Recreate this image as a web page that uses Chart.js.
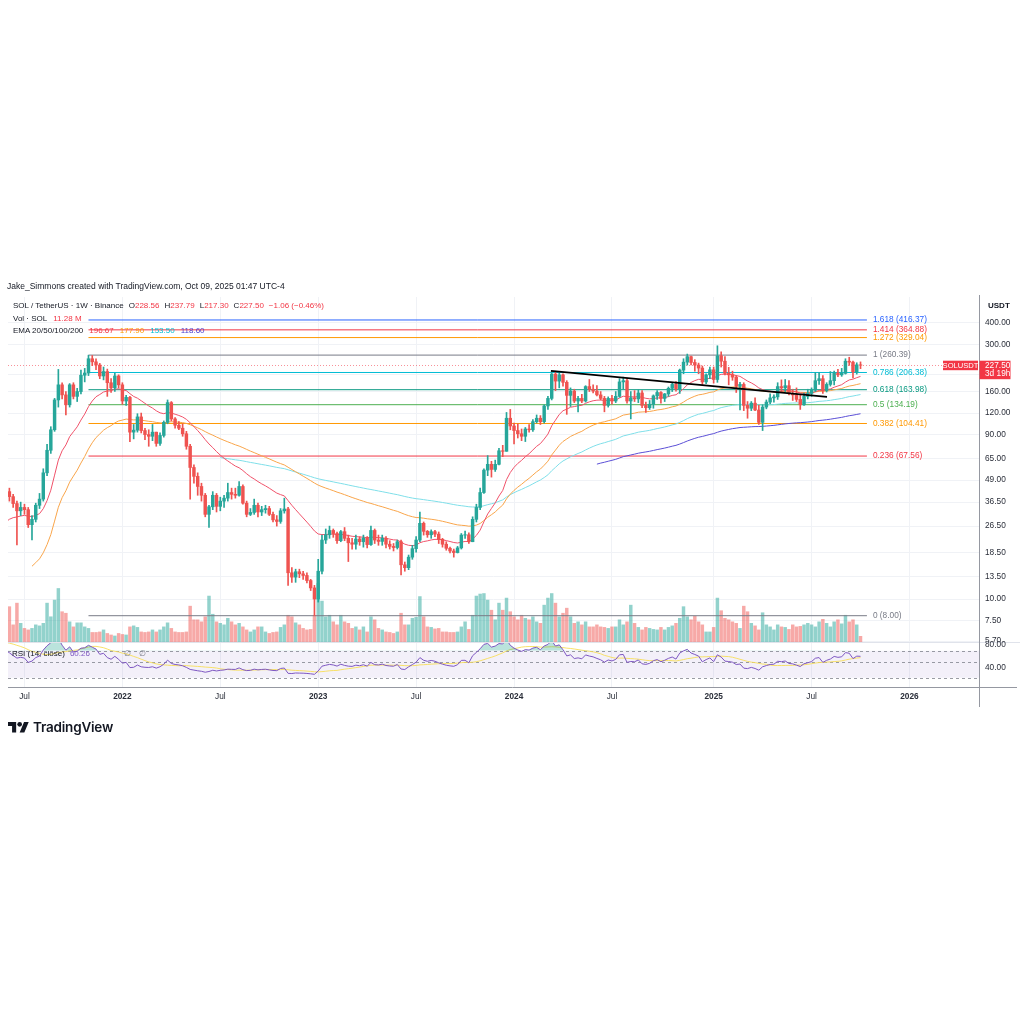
<!DOCTYPE html>
<html>
<head>
<meta charset="utf-8">
<title>SOL / TetherUS 1W</title>
<script src="https://cdn.jsdelivr.net/npm/chart.js@4.4.1/dist/chart.umd.min.js"></script>
<style>
  html, body { margin: 0; padding: 0; background: #fff; }
  #wrap { position: relative; width: 1024px; height: 1024px; overflow: hidden;
          font-family: "Liberation Sans", Arial, sans-serif; color: #131722; }
  #c { position: absolute; left: 0; top: 0; }
  .t { position: absolute; white-space: nowrap; font-size: 8px; line-height: 10px; }
  .row { position: absolute; left: 13px; white-space: nowrap; font-size: 8px; line-height: 10px; display: flex; }
  .row span { display: inline-block; }
  .red { color: #f23645; }
  .logo { position: absolute; left: 8px; top: 722px; }
  .brand { position: absolute; left: 33px; top: 718px; font-family: Inter, "Liberation Sans", sans-serif;
           font-weight: 600; font-size: 13.5px; line-height: 18px; color: #131722; letter-spacing: -0.2px; }
</style>
</head>
<body>
<div id="wrap">
  <canvas id="c" width="1024" height="1024"></canvas>

  <div class="t" style="left:7px;top:281px;font-size:8.5px">Jake_Simmons created with TradingView.com, Oct 09, 2025 01:47 UTC-4</div>

  <div class="row" style="top:301px">
    <span>SOL / TetherUS · 1W · Binance</span>
    <span style="margin-left:5px">O<span class="red">228.56</span></span>
    <span style="margin-left:5px">H<span class="red">237.79</span></span>
    <span style="margin-left:5px">L<span class="red">217.30</span></span>
    <span style="margin-left:5px">C<span class="red">227.50</span></span>
    <span class="red" style="margin-left:5px">−1.06 (−0.46%)</span>
  </div>
  <div class="row" style="top:314px">
    <span>Vol · SOL</span>
    <span class="red" style="margin-left:6px">11.28 M</span>
  </div>
  <div class="row" style="top:326px">
    <span>EMA 20/50/100/200</span>
    <span style="margin-left:6px;color:#f23645">196.67</span>
    <span style="margin-left:6px;color:#ff9800">177.90</span>
    <span style="margin-left:6px;color:#00bcd4">153.50</span>
    <span style="margin-left:6px;color:#4b3fcf">118.60</span>
  </div>

  <div class="row" style="top:649px;left:12px">
    <span>RSI (14, close)</span>
    <span style="margin-left:5px;color:#7e57c2">60.26</span>
    <span style="margin-left:34px;color:#787b86">∅</span>
    <span style="margin-left:8px;color:#787b86">∅</span>
  </div>

  <div class="t" style="left:988px;top:301px;font-weight:bold">USDT</div>

  <svg class="logo" width="21" height="10.5" viewBox="0 4 36 18">
    <path d="M14 22H7V11H0V4h14v18zM28 22h-8l7.5-18h8L28 22z" fill="#131722"/>
    <circle cx="20" cy="8" r="4" fill="#131722"/>
  </svg>
  <div class="brand">TradingView</div>
</div>

<script>
// week index = weeks since 2020-08-10 (first SOLUSDT weekly bar on Binance)
const firstWeek = 43;   // 2021-06-07, first bar inside the plot

// weekly closes Aug 2020 - May 2021, left of the visible window; only used to warm up EMA / RSI
const warmupCloses = [3.3, 3.9, 4.2, 3.2, 3.4, 3.0, 3.0, 2.7, 2.5, 2.4, 1.8, 1.6, 1.7, 2.3, 2.1,
  1.9, 2.0, 1.65, 1.6, 1.5, 2.0, 3.5, 3.3, 3.7, 4.2, 7.6, 8.5, 13.5, 12.8, 13.8, 15.0, 15.5, 17.0,
  20.0, 30.0, 32.0, 28.0, 44.0, 48.0, 50.0, 42.0, 38.0, 42.0];

// visible weekly bars, 2021-06-07 .. 2025-10-06 (open = previous close)
const closes = [
  39.3, 35.8, 32.5, 34.0, 33.0, 27.0, 29.0, 35.0, 38.0, 54.0,
  73, 96, 143, 175, 153, 134, 175, 150, 160, 199,
  205, 248, 238, 228, 197, 209, 180, 168, 197, 175,
  141, 148, 93, 95.5, 114, 95, 90, 88, 93, 80,
  89, 106, 138, 111, 102, 98, 91, 77, 58, 51.5,
  45, 40, 31, 34.3, 40, 34.5, 37, 38.5, 41.5, 40.5,
  40, 45, 36, 31, 31.8, 35, 32, 33, 33.5, 31,
  28.8, 28.2, 32.5, 33.3, 14.2, 13.4, 14.4, 14.0, 13.7, 12.8,
  11.6, 10.0, 14.5, 22.0, 23.6, 25.0, 24.0, 21.8, 24.6, 22.5,
  21.2, 20.8, 22.3, 21.5, 22.6, 20.7, 25.0, 22.0, 21.6, 22.5,
  20.8, 20.2, 19.9, 21.5, 15.8, 15.2, 17.5, 19.6, 22.0, 27.5,
  24.7, 23.6, 24.6, 23.8, 22.2, 20.8, 19.7, 19.0, 18.6, 19.8,
  23.5, 23.6, 21.5, 29.0, 34.0, 41.5, 56, 60.5, 56.5, 60.5,
  72.5, 72, 112, 101, 95, 91, 88, 97, 96, 107,
  112, 107, 132, 146, 202, 184, 200, 181, 152, 161,
  141, 146, 141, 171, 165, 161, 153, 146, 133, 146,
  141, 150, 182, 185, 141, 147, 145, 157, 133, 129,
  135, 151, 158, 146, 155, 167, 176, 166, 213, 237,
  255, 236, 228, 219, 182, 200, 214, 188, 258, 240,
  204, 200, 194, 172, 176, 133, 128, 137, 125, 106,
  130, 139, 147, 149, 171, 168, 173, 156, 153, 144,
  134, 150, 156, 163, 185, 190, 162, 176, 185, 205,
  200, 204, 240, 237, 208, 228.56, 227.50
];
const highs = [
  44, 40.5, 37, 36.5, 35.5, 34, 30.5, 36, 41, 57,
  79, 100, 146, 215, 180, 160, 178, 180, 167, 213,
  218, 260, 259, 248, 233, 222, 216, 190, 204, 200,
  180, 152, 150, 103, 119, 120, 98, 96, 103, 93,
  92, 108, 143, 140, 113, 107, 104, 94, 79, 60,
  54, 47, 41, 35, 42, 41, 39, 40, 47, 44,
  44, 48, 46, 37, 33.5, 38, 36, 34.5, 35, 34.5,
  32, 30.5, 33.5, 38.5, 34, 15.2, 14.9, 14.9, 14.5, 14.2,
  13.0, 12.0, 17.0, 23.5, 25.5, 26.5, 25.5, 24.5, 25.0, 26.0,
  23.5, 22.5, 23.5, 23.0, 23.5, 23.0, 26.5, 25.5, 23.5, 23.5,
  23.0, 21.8, 21.0, 22.0, 22.0, 16.4, 18.0, 20.5, 23.0, 32.0,
  28.0, 25.0, 25.2, 25.0, 24.5, 22.5, 21.5, 20.0, 19.5, 20.2,
  24.0, 24.8, 24.2, 30.0, 35.5, 44.0, 57, 68, 63, 64,
  75, 78, 121, 126, 105, 104, 97, 99, 103, 110,
  117, 116, 134, 150, 210, 210, 205, 203, 185, 168,
  165, 150, 154, 173, 188, 175, 173, 160, 150, 149,
  152, 160, 190, 194, 190, 160, 162, 164, 162, 139,
  142, 153, 162, 160, 156, 170, 180, 183, 216, 248,
  264, 257, 245, 234, 225, 203, 222, 222, 295, 272,
  255, 221, 210, 198, 181, 180, 140, 140, 147, 133,
  134, 143, 155, 153, 180, 187, 188, 185, 165, 168,
  153, 157, 165, 168, 206, 206, 198, 180, 209, 210,
  215, 218, 248, 253, 240, 235, 237.79
];
const lows = [
  37, 34, 20.6, 30.5, 31, 26, 22, 28, 33.5, 37,
  52, 70, 94, 130, 145, 117, 130, 145, 140, 155,
  182, 198, 226, 214, 190, 187, 150, 158, 160, 168,
  135, 133, 82, 85, 93, 92, 84, 77, 83, 77,
  78, 87, 104, 108, 98, 96, 88, 74, 38, 47,
  40, 37, 30, 26, 33, 32, 32.5, 34, 37, 38,
  38.5, 39.5, 35.5, 30, 30.5, 31, 30, 30.5, 31.5, 30.5,
  28, 26.5, 27.5, 31.5, 12, 12.5, 12.5, 13.3, 13.0, 12.4,
  11.2, 8.0, 9.6, 14.0, 21.0, 22.5, 22.8, 21.0, 21.5, 21.8,
  16.5, 19.5, 19.5, 20.5, 20.0, 19.8, 20.5, 21.0, 20.5, 20.5,
  19.8, 19.5, 19.0, 19.5, 13.8, 14.5, 14.8, 17.0, 18.7, 21.5,
  23.5, 22.8, 22.5, 23.0, 21.0, 20.0, 19.2, 18.5, 17.5, 18.5,
  19.5, 22.5, 21.0, 21.5, 28.0, 33.0, 41, 52, 51, 55,
  60, 67, 72, 96, 79.5, 86, 83, 82, 93, 94,
  105, 103, 105, 126, 143, 162, 168, 172, 118, 131,
  138, 122, 138, 139, 160, 157, 151, 143, 122, 130,
  135, 138, 148, 165, 137, 111, 140, 138, 129, 121,
  126, 128, 144, 137, 140, 150, 160, 161, 156, 203,
  228, 228, 210, 203, 176, 178, 190, 179, 181, 222,
  200, 175, 186, 158, 125, 124, 112, 124, 124, 103,
  95, 127, 136, 139, 144, 160, 160, 153, 142, 140,
  126, 133, 145, 150, 160, 176, 156, 159, 172, 175,
  195, 196, 202, 227, 192, 202, 217.30
];
// weekly volume, millions of SOL
const volumes = [
  70, 34, 77, 37, 27, 24, 27, 34, 32, 37,
  77, 50, 83, 106, 60, 57, 40, 30, 38, 38,
  30, 27, 19, 19, 20, 24, 17, 14, 12, 17,
  15, 14, 30, 32, 29, 20, 19, 20, 24, 20,
  24, 30, 38, 27, 20, 19, 19, 20, 71, 44,
  44, 40, 50, 91, 55, 40, 37, 34, 47, 40,
  34, 37, 30, 24, 20, 24, 30, 30, 20, 17,
  19, 20, 29, 34, 53, 50, 38, 34, 27, 24,
  25, 53, 116, 81, 50, 53, 40, 34, 53, 40,
  37, 27, 30, 24, 30, 20, 50, 44, 27, 24,
  20, 19, 17, 20, 57, 34, 34, 47, 49, 90,
  50, 30, 29, 26, 27, 20, 20, 19, 19, 20,
  30, 40, 25, 53, 91, 95, 96, 83, 63, 44,
  77, 63, 87, 60, 50, 44, 53, 47, 44, 50,
  40, 37, 73, 87, 96, 77, 50, 57, 67, 50,
  37, 40, 34, 40, 30, 30, 34, 30, 29, 27,
  30, 30, 44, 34, 40, 73, 37, 29, 24, 29,
  27, 25, 24, 29, 24, 29, 32, 37, 47, 70,
  50, 44, 51, 40, 34, 20, 20, 29, 87, 62,
  47, 44, 40, 37, 27, 71, 60, 37, 32, 24,
  58, 34, 30, 24, 34, 30, 29, 25, 34, 30,
  31, 34, 37, 34, 30, 40, 45, 37, 30, 40,
  44, 36, 53, 40, 44, 34, 11.28
];

const priceTicks = [400, 300, 200, 160, 120, 90, 65, 49, 36.5, 26.5, 18.5, 13.5, 10, 7.5, 5.7];
const timeTicks = [47, 73, 99, 125, 151, 177, 203, 230, 256, 282];
const timeLabels = ['Jul', '2022', 'Jul', '2023', 'Jul', '2024', 'Jul', '2025', 'Jul', '2026'];
const rsiTicks = [80, 40];
const rsiBands = [70, 50, 23];   // lower band drawn where the picture shows it

const fibRatios = [1.618, 1.414, 1.272, 1, 0.786, 0.618, 0.5, 0.382, 0.236, 0];
const fibPrices = [416.37, 364.88, 329.04, 260.39, 206.38, 163.98, 134.19, 104.41, 67.56, 8.00];
const fibColors = ['#2962ff', '#f23645', '#ff9800', '#787b86', '#00bcd4', '#089981', '#4caf50', '#ff9800', '#f23645', '#787b86'];
const fibWeeks = [64, 270.7];

const trendWeeks = [186.8, 260.1];
const trendPrices = [211, 149];

const emaLengths = [20, 50, 100, 200];
const emaColors = ['#f0526a', '#f9a54a', '#7fdfe9', '#5b4fd6'];

if (highs.length !== closes.length || lows.length !== closes.length || volumes.length !== closes.length) {
  throw new Error('length mismatch ' + closes.length + ' ' + highs.length + ' ' + lows.length + ' ' + volumes.length);
}

// ---- indicators, computed the way TradingView does ----
const allCloses = warmupCloses.concat(closes);

function ema(src, n) {
  const out = [];
  const a = 2 / (n + 1);
  let prev = null;
  for (let i = n - 1; i < src.length; i++) {
    if (prev === null) {
      let s = 0;
      for (let k = i - n + 1; k <= i; k++) s += src[k];
      prev = s / n;
    } else {
      prev = a * src[i] + (1 - a) * prev;
    }
    out.push({ x: i, y: prev });
  }
  return out;
}

function rsi(src, n) {
  const out = [];
  let ag = 0, al = 0;
  for (let i = 1; i < src.length; i++) {
    const d = src[i] - src[i - 1];
    const g = Math.max(d, 0), l = Math.max(-d, 0);
    if (i <= n) {
      ag += g / n; al += l / n;
      if (i < n) continue;
    } else {
      ag = (ag * (n - 1) + g) / n;
      al = (al * (n - 1) + l) / n;
    }
    out.push({ x: i, y: al === 0 ? 100 : 100 - 100 / (1 + ag / al) });
  }
  return out;
}

function smaPoints(pts, n) {
  const out = [];
  for (let i = n - 1; i < pts.length; i++) {
    let s = 0;
    for (let k = i - n + 1; k <= i; k++) s += pts[k].y;
    out.push({ x: pts[i].x, y: s / n });
  }
  return out;
}

const rsiPts = rsi(allCloses, 14);
const rsiMa = smaPoints(rsiPts, 14);

// ---- candles ----
const UP = '#26a69a', DOWN = '#ef5350';
const opens = closes.map((c, k) => allCloses[firstWeek + k - 1]);
const isUp = closes.map((c, k) => c >= opens[k]);
const wickData = closes.map((c, k) => ({ x: firstWeek + k, y: [lows[k], highs[k]] }));
const bodyData = closes.map((c, k) => ({ x: firstWeek + k, y: [opens[k], c] }));
const volData = volumes.map((v, k) => ({ x: firstWeek + k, y: v }));
const candleColors = isUp.map(u => u ? UP : DOWN);
const volColors = isUp.map(u => u ? 'rgba(38,166,154,0.5)' : 'rgba(239,83,80,0.5)');

// ---- layout (pixels) ----
const PANE_TOP = 297, PRICE_BOTTOM = 642, PANE_BOTTOM = 687, AXIS_X = 979;
const clipPrice = { left: 0, top: 0, right: 0, bottom: -(PANE_BOTTOM - PRICE_BOTTOM) };
const clipRsi = { left: 0, top: -(PRICE_BOTTOM - PANE_TOP), right: 0, bottom: 0 };

const datasets = [];

datasets.push({
  type: 'bar', label: 'Vol', yAxisID: 'yVol', data: volData, order: 9,
  backgroundColor: volColors, barThickness: 2.8, grouped: false, borderWidth: 0, clip: clipPrice
});

fibPrices.forEach((p, i) => {
  datasets.push({
    type: 'line', label: 'fib ' + fibRatios[i], yAxisID: 'y', order: 8,
    data: [{ x: fibWeeks[0], y: p }, { x: fibWeeks[1], y: p }],
    borderColor: fibColors[i], borderWidth: 1, pointRadius: 0, clip: clipPrice
  });
});

emaLengths.forEach((n, i) => {
  datasets.push({
    type: 'line', label: 'EMA ' + n, yAxisID: 'y', order: 5,
    data: ema(allCloses, n), borderColor: emaColors[i], borderWidth: 1,
    pointRadius: 0, tension: 0, clip: clipPrice
  });
});

datasets.push({
  type: 'bar', label: 'wick', yAxisID: 'y', data: wickData, order: 4,
  backgroundColor: candleColors, barThickness: 1, grouped: false, borderWidth: 0, clip: clipPrice
});
datasets.push({
  type: 'bar', label: 'body', yAxisID: 'y', data: bodyData, order: 3,
  backgroundColor: candleColors, barThickness: 2.8, grouped: false, borderWidth: 0, clip: clipPrice
});

datasets.push({
  type: 'line', label: 'trend', yAxisID: 'y', order: 2,
  data: [{ x: trendWeeks[0], y: trendPrices[0] }, { x: trendWeeks[1], y: trendPrices[1] }],
  borderColor: '#000000', borderWidth: 1.6, pointRadius: 0, clip: clipPrice
});

datasets.push({
  type: 'line', label: 'RSI MA', yAxisID: 'yRsi', data: rsiMa, order: 1,
  borderColor: 'rgba(247,222,88,0.9)', borderWidth: 1, pointRadius: 0, clip: clipRsi
});
datasets.push({
  type: 'line', label: 'RSI', yAxisID: 'yRsi', data: rsiPts, order: 0,
  borderColor: '#7e57c2', borderWidth: 1, pointRadius: 0, clip: clipRsi,
  fill: { target: { value: rsiBands[0] }, above: 'rgba(8,153,129,0.28)', below: 'rgba(0,0,0,0)' }
});

// ---- overlay: bands, price line, fib labels, axis lines, price tag ----
const FONT = '"Liberation Sans", Arial, sans-serif';
const overlay = {
  id: 'overlay',
  beforeDatasetsDraw(chart) {
    const { ctx, chartArea: a, scales } = chart;
    const yr = scales.yRsi, yp = scales.y;
    ctx.save();
    const t = yr.getPixelForValue(rsiBands[0]), b = yr.getPixelForValue(rsiBands[2]);
    ctx.fillStyle = 'rgba(126,87,194,0.09)';
    ctx.fillRect(a.left, t, a.right - a.left, b - t);
    ctx.setLineDash([3, 3]);
    ctx.strokeStyle = 'rgba(120,123,134,0.75)';
    ctx.lineWidth = 1;
    rsiBands.forEach(v => {
      const py = Math.round(yr.getPixelForValue(v)) + 0.5;
      ctx.beginPath(); ctx.moveTo(a.left, py); ctx.lineTo(a.right, py); ctx.stroke();
    });
    const py = Math.round(yp.getPixelForValue(closes[closes.length - 1])) + 0.5;
    ctx.setLineDash([1, 2]);
    ctx.strokeStyle = 'rgba(242,54,69,0.55)';
    ctx.beginPath(); ctx.moveTo(a.left, py); ctx.lineTo(a.right, py); ctx.stroke();
    ctx.restore();
  },
  afterDatasetsDraw(chart) {
    const { ctx, scales } = chart;
    const lx = scales.x.getPixelForValue(fibWeeks[1]) + 6;
    ctx.save();
    ctx.font = '8.3px ' + FONT;
    ctx.textBaseline = 'middle';
    ctx.textAlign = 'left';
    fibPrices.forEach((p, i) => {
      ctx.fillStyle = fibColors[i];
      ctx.fillText(fibRatios[i] + ' (' + p.toFixed(2) + ')', lx, scales.y.getPixelForValue(p));
    });
    ctx.restore();
  },
  afterDraw(chart) {
    const { ctx, chartArea: a, scales } = chart;
    ctx.save();
    // pane separator and axis lines
    ctx.strokeStyle = '#e0e3eb'; ctx.lineWidth = 1;
    ctx.beginPath(); ctx.moveTo(a.left, PRICE_BOTTOM + 0.5); ctx.lineTo(1020, PRICE_BOTTOM + 0.5); ctx.stroke();
    ctx.strokeStyle = '#9598a1';
    ctx.beginPath(); ctx.moveTo(a.left, a.bottom + 0.5); ctx.lineTo(1017, a.bottom + 0.5); ctx.stroke();
    ctx.beginPath(); ctx.moveTo(AXIS_X + 0.5, PANE_TOP - 2); ctx.lineTo(AXIS_X + 0.5, 707); ctx.stroke();
    // rsi axis labels
    ctx.font = '8.3px ' + FONT;
    ctx.fillStyle = '#2a2e39';
    ctx.textBaseline = 'middle';
    rsiTicks.forEach(v => ctx.fillText(v.toFixed(2), AXIS_X + 6, scales.yRsi.getPixelForValue(v)));
    // last price tag
    const last = closes[closes.length - 1];
    const ty = scales.y.getPixelForValue(last);
    ctx.fillStyle = '#f23645';
    ctx.fillRect(943, ty - 4.5, 35, 9.5);
    ctx.fillRect(AXIS_X + 0.5, ty - 4.5, 31, 18.5);
    ctx.fillStyle = '#ffffff';
    ctx.font = '7.6px ' + FONT;
    ctx.textAlign = 'center';
    ctx.fillText('SOLUSDT', 960.5, ty + 0.3);
    ctx.font = '8.3px ' + FONT;
    ctx.textAlign = 'left';
    ctx.fillText(last.toFixed(2), AXIS_X + 6, ty + 0.8);
    ctx.fillText('3d 19h', AXIS_X + 6, ty + 9);
    ctx.restore();
  }
};

Chart.defaults.font.family = FONT;

new Chart(document.getElementById('c'), {
  type: 'bar',
  data: { datasets },
  options: {
    responsive: false,
    animation: false,
    devicePixelRatio: 1,
    layout: { padding: { top: PANE_TOP, left: 8, right: 0, bottom: 1024 - 707 } },
    plugins: { legend: { display: false }, tooltip: { enabled: false } },
    scales: {
      x: {
        type: 'linear', min: 42.63, max: 300.46, offset: false,
        afterBuildTicks: s => { s.ticks = timeTicks.map(v => ({ value: v })); },
        afterFit: s => { s.height = 20; },
        grid: { color: '#f0f2f6', drawTicks: false, offset: false },
        border: { display: false },
        ticks: {
          autoSkip: false, maxRotation: 0, padding: 5, color: '#2a2e39',
          font: c => ({ size: 8.3, weight: /^\d/.test(timeLabels[c.index] || '') ? 'bold' : 'normal' }),
          callback: (v, i) => timeLabels[i]
        }
      },
      y: {
        type: 'logarithmic', position: 'right', min: 3.086, max: 566,
        afterBuildTicks: s => { s.ticks = priceTicks.map(v => ({ value: v })); },
        afterFit: s => { s.width = 1024 - AXIS_X; },
        grid: { color: '#f0f2f6', drawTicks: false },
        border: { display: false },
        ticks: {
          autoSkip: false, padding: 6, color: '#2a2e39', font: { size: 8.3 },
          callback: v => Number(v).toFixed(2)
        }
      },
      yVol: { type: 'linear', display: false, min: -89, max: 683 },
      yRsi: { type: 'linear', display: false, min: 6.96, max: 685.2 }
    }
  },
  plugins: [overlay]
});
</script>
</body>
</html>
